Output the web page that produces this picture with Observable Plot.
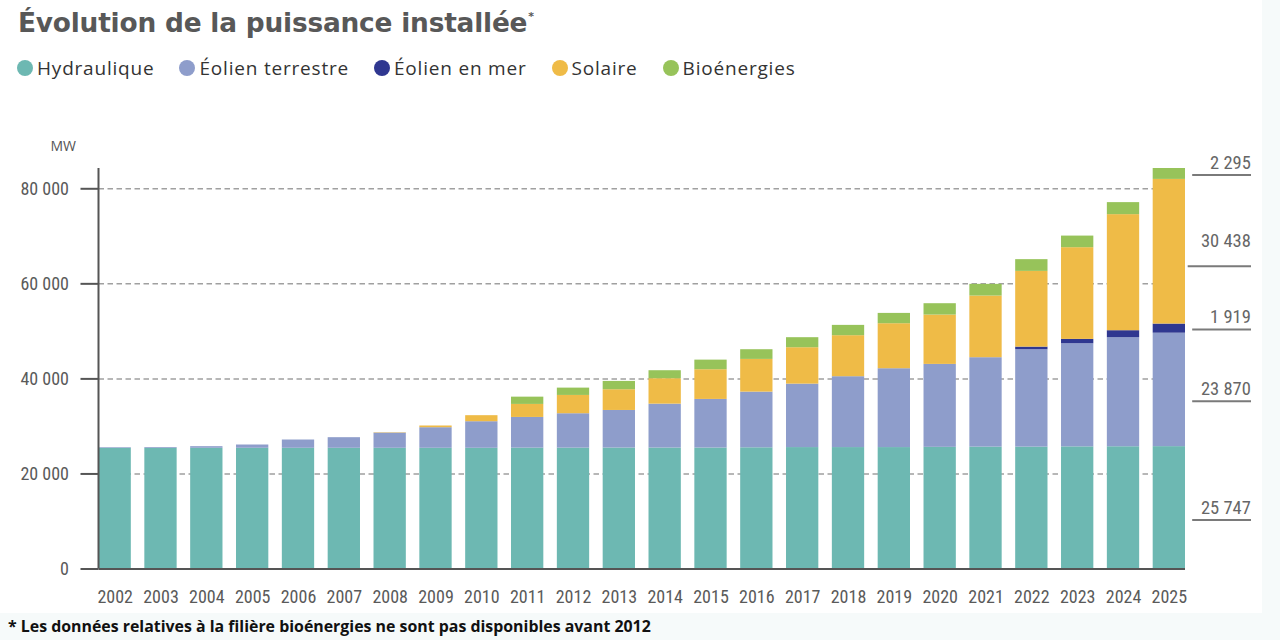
<!DOCTYPE html>
<html lang="fr">
<head>
<meta charset="utf-8">
<script src="https://cdn.jsdelivr.net/npm/d3@7"></script>
<script src="https://cdn.jsdelivr.net/npm/@observablehq/plot@0.6"></script>
<style>
  html, body { margin: 0; padding: 0; background: #f6fafa; }
  #page { position: absolute; left: 0; top: 0; width: 1262px; height: 613px; background: #ffffff; }
  #title { position: absolute; left: 18px; top: 3px; font-family: "DejaVu Sans", sans-serif; font-weight: bold; font-size: 26.4px; color: #585858; line-height: 40px; white-space: nowrap; letter-spacing: -0.2px; }
  #title sup { font-size: 11px; vertical-align: top; position: relative; top: -6px; margin-left: 1px; }
  #legend { position: absolute; left: 17px; top: 54px; display: flex; gap: 25px; font-family: "Open Sans", sans-serif; font-size: 19px; letter-spacing: 0.8px; color: #333; white-space: nowrap; line-height: 28px; }
  .item { display: flex; align-items: center; }
  .sw { width: 16px; height: 16px; border-radius: 50%; margin-right: 4px; }
  #chart { position: absolute; left: 0; top: 130px; width: 1280px; }
  #chart svg { max-width: none; }
  #note { position: absolute; left: 8px; top: 613px; font-family: "Open Sans", sans-serif; font-weight: bold; font-size: 15.9px; color: #111; white-space: nowrap; line-height: 26px; }
</style>
</head>
<body>
<div id="page">
  <div id="title">Évolution de la puissance installée<sup>*</sup></div>
  <div id="legend"></div>
</div>
<div id="chart"></div>
<div id="note">* Les données relatives à la filière bioénergies ne sont pas disponibles avant 2012</div>
<script>
const years = ["2002","2003","2004","2005","2006","2007","2008","2009","2010","2011","2012","2013","2014","2015","2016","2017","2018","2019","2020","2021","2022","2023","2024","2025"];
const series = ["Hydraulique", "Éolien terrestre", "Éolien en mer", "Solaire", "Bioénergies"];
const colors = ["#6db8b2", "#8e9dcb", "#2f3790", "#efbb47", "#97c35a"];
const hydro    = [25400,25400,25400,25400,25400,25400,25400,25400,25400,25430,25430,25450,25450,25450,25500,25550,25550,25550,25600,25650,25650,25700,25720,25747];
const windOn   = [130,160,340,690,1740,2230,3200,4330,5590,6460,7240,7910,9240,10230,11720,13350,14910,16590,17450,18810,20490,21700,22950,23870];
const windOff  = [0,0,0,0,0,0,0,0,0,0,0,0,0,0,0,0,0,0,0,0,550,910,1470,1919];
const solar    = [0,0,0,0,0,0,80,360,1270,2740,3850,4360,5350,6250,6880,7660,8630,9470,10380,12970,15930,19300,24420,30438];
const bio      = [0,0,0,0,0,0,0,0,0,1530,1540,1750,1680,2020,2040,2110,2170,2170,2390,2460,2470,2440,2530,2295];
const yTicks = [0, 20000, 40000, 60000, 80000];

const valuesBySeries = [hydro, windOn, windOff, solar, bio];
const table = [];
years.forEach((year, i) => {
  series.forEach((s, j) => table.push({year, series: s, value: valuesBySeries[j][i]}));
});
const totals = years.map((_, i) => d3.sum(valuesBySeries, v => v[i]));
const maxTotal = d3.max(totals);

function fmt(v) { return d3.format(",")(v).replace(/,/g, "\u00A0"); }

// annotations for the last year
const last = years.length - 1;
let base = 0;
const annot = series.map((s, j) => {
  const v = valuesBySeries[j][last];
  const a = {series: s, value: v, base, label: fmt(v)};
  base += v;
  return a;
});

// legend
const legend = document.getElementById("legend");
series.forEach((s, j) => {
  const it = document.createElement("div");
  it.className = "item";
  it.innerHTML = `<span class="sw" style="background:${colors[j]}"></span><span>${s}</span>`;
  legend.appendChild(it);
});

const axisFont = "Roboto Condensed, DejaVu Sans Condensed, sans-serif";
const annY = d => d.base + 0.4 * d.value;
const plot = Plot.plot({
  width: 1280,
  height: 480,
  marginTop: 38,
  marginBottom: 41.5,
  marginLeft: 98.5,
  marginRight: 95,
  style: {background: "transparent", fontFamily: axisFont, fontSize: "18px", color: "#555", overflow: "visible"},
  x: {domain: years, paddingInner: 0.295, paddingOuter: 0, round: false, label: null},
  y: {domain: [0, maxTotal], label: null},
  color: {domain: series, range: colors},
  marks: [
    Plot.gridY(yTicks.slice(1), {stroke: "#a0a0a0", strokeOpacity: 1, strokeWidth: 1.5, strokeDasharray: "5.5,3.5"}),
    Plot.barY(table, {x: "year", y: "value", fill: "series", order: series}),
    Plot.ruleY([0], {stroke: "#555", strokeWidth: 2}),
    Plot.axisY({ticks: yTicks, tickSize: 18, tickPadding: 12, tickFormat: fmt, stroke: "#555", strokeWidth: 2, fill: "#5a5a5a", fontSize: 18, label: null}),
    Plot.axisX({tickSize: 0, tickPadding: 21, fill: "#5a5a5a", fontSize: 18, label: null}),
    (index, scales, values, dims) => {
      const line = d3.create("svg:line")
        .attr("x1", dims.marginLeft).attr("x2", dims.marginLeft)
        .attr("y1", dims.marginTop).attr("y2", dims.height - dims.marginBottom)
        .attr("stroke", "#555").attr("stroke-width", 2);
      return line.node();
    },
    Plot.text(["MW"], {frameAnchor: "top-left", dx: -48.5, dy: -22, textAnchor: "start", lineAnchor: "middle", fontFamily: "Open Sans, sans-serif", fontSize: 14, fill: "#555"}),
    Plot.tickY(annot.filter(d => d.series !== "Solaire"), {x: () => years[last], y: annY, insetLeft: 39.5, insetRight: -66, stroke: "#7a7a7a", strokeWidth: 2}),
    Plot.tickY(annot.filter(d => d.series === "Solaire"), {x: () => years[last], y: annY, insetLeft: 35, insetRight: -66, stroke: "#7a7a7a", strokeWidth: 2}),
    Plot.text(annot.filter(d => d.series !== "Solaire"), {x: () => years[last], y: annY, text: "label", textAnchor: "end", dx: 81.5, dy: -12, fontSize: 18.5, fill: "#666"}),
    Plot.text(annot.filter(d => d.series === "Solaire"), {x: () => years[last], y: annY, text: "label", textAnchor: "end", dx: 81.5, dy: -25, fontSize: 18.5, fill: "#666"})
  ]
});
document.getElementById("chart").appendChild(plot);
</script>
</body>
</html>
